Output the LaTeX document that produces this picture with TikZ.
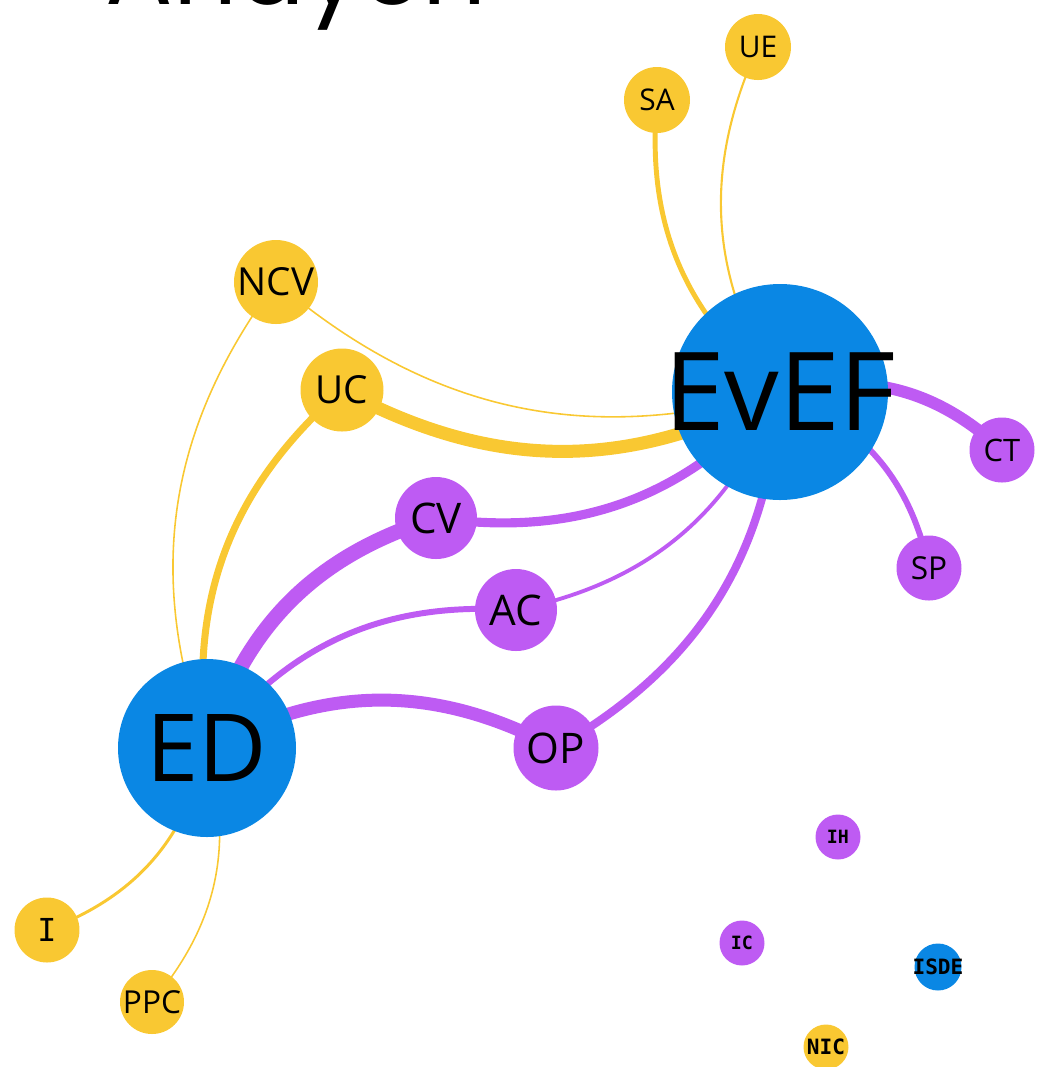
\documentclass[tikz,border=0pt]{standalone}
\usepackage{fontspec}
\setmainfont{Open Sans}
\newfontfamily\monofont{DejaVu Sans Mono}
\newfontfamily\titlefont{Poppins}
\usetikzlibrary{backgrounds}

\definecolor{gold}{HTML}{F9C832}
\definecolor{violet2}{HTML}{BE5BF3}
\definecolor{azure}{HTML}{0A87E4}

\newcommand{\fsz}[1]{\fontsize{#1}{#1}\selectfont}

\tikzset{
  vert/.style={circle, inner sep=0pt, text=black},
  goldv/.style={vert, fill=gold},
  violv/.style={vert, fill=violet2},
  azurev/.style={vert, fill=azure},
  link/.style={bend left=28},
}

\begin{document}
\begin{tikzpicture}
    \useasboundingbox (0,0) rectangle (10.39,-10.67);
    \clip (0,0) rectangle (10.39,-10.67);

    % Title (cut at the top)
    \node[anchor=base west, inner sep=0pt, font=\titlefont\fsz{28.5}] (title) at (1.05,-0.04) {Anaych};

    % Hubs
    \node[azurev, minimum size=2.16cm, font=\fsz{31}] (EvEF) at (7.80,-3.92) {\makebox[0pt]{EvEF}};
    \node[azurev, minimum size=1.78cm, font=\fsz{26.7}] (ED) at (2.07,-7.48) {ED};

    % Yellow nodes
    \node[goldv, minimum size=0.66cm, font=\fsz{8.5}] (UE) at (7.58,-0.47) {UE};
    \node[goldv, minimum size=0.66cm, font=\fsz{8.5}] (SA) at (6.57,-1.00) {SA};
    \node[goldv, minimum size=0.84cm, font=\fsz{11}] (NCV) at (2.76,-2.82) {NCV};
    \node[goldv, minimum size=0.83cm, font=\fsz{11}] (UC) at (3.42,-3.90) {UC};
    \node[goldv, minimum size=0.65cm, font=\monofont\fsz{9}] (I) at (0.47,-9.30) {I};
    \node[goldv, minimum size=0.64cm, font=\fsz{9}] (PPC) at (1.52,-10.02) {PPC};

    % Purple nodes
    \node[violv, minimum size=0.82cm, font=\fsz{12}] (CV) at (4.36,-5.18) {CV};
    \node[violv, minimum size=0.82cm, font=\fsz{12}] (AC) at (5.16,-6.10) {AC};
    \node[violv, minimum size=0.85cm, font=\fsz{12}] (OP) at (5.56,-7.48) {OP};
    \node[violv, minimum size=0.65cm, font=\fsz{8.8}] (CT) at (10.02,-4.50) {CT};
    \node[violv, minimum size=0.65cm, font=\fsz{9}] (SP) at (9.29,-5.68) {SP};

    % Loose nodes
    \node[violv, minimum size=0.45cm, font=\monofont\bfseries\fsz{5.2}] (IH) at (8.38,-8.37) {IH};
    \node[violv, minimum size=0.45cm, font=\monofont\bfseries\fsz{5.2}] (IC) at (7.42,-9.43) {IC};
    \node[azurev, minimum size=0.47cm, font=\monofont\bfseries\fsz{6}] (ISDE) at (9.38,-9.67) {\makebox[0pt]{ISDE}};
    \node[goldv, minimum size=0.45cm, font=\monofont\bfseries\fsz{6}] (NIC) at (8.26,-10.47) {\makebox[0pt]{NIC}};

    % Links
    \begin{scope}[on background layer]
        \draw[gold, line width=1.4pt] (EvEF.center) to[link] (SA.center);
        \draw[gold, line width=0.6pt] (EvEF.center) to[link] (UE.center);
        \draw[gold, line width=0.45pt] (EvEF.center) to[link] (NCV.center);
        \draw[gold, line width=3.7pt] (EvEF.center) to[link] (UC.center);
        \draw[gold, line width=0.45pt] (ED.center) to[link] (NCV.center);
        \draw[gold, line width=2pt] (ED.center) to[link] (UC.center);
        \draw[gold, line width=0.85pt] (ED.center) to[link] (I.center);
        \draw[gold, line width=0.45pt] (ED.center) to[link] (PPC.center);

        \draw[violet2, line width=4.3pt] (ED.center) to[link] (CV.center);
        \draw[violet2, line width=2.6pt] (EvEF.center) to[link] (CV.center);
        \draw[violet2, line width=1.7pt] (ED.center) to[link] (AC.center);
        \draw[violet2, line width=1.1pt] (EvEF.center) to[link] (AC.center);
        \draw[violet2, line width=3.7pt] (ED.center) to[link] (OP.center);
        \draw[violet2, line width=2.3pt] (EvEF.center) to[link] (OP.center);
        \draw[violet2, line width=3.4pt] (EvEF.center) to[link] (CT.center);
        \draw[violet2, line width=1.7pt] (EvEF.center) to[link] (SP.center);
    \end{scope}
\end{tikzpicture}
\end{document}
